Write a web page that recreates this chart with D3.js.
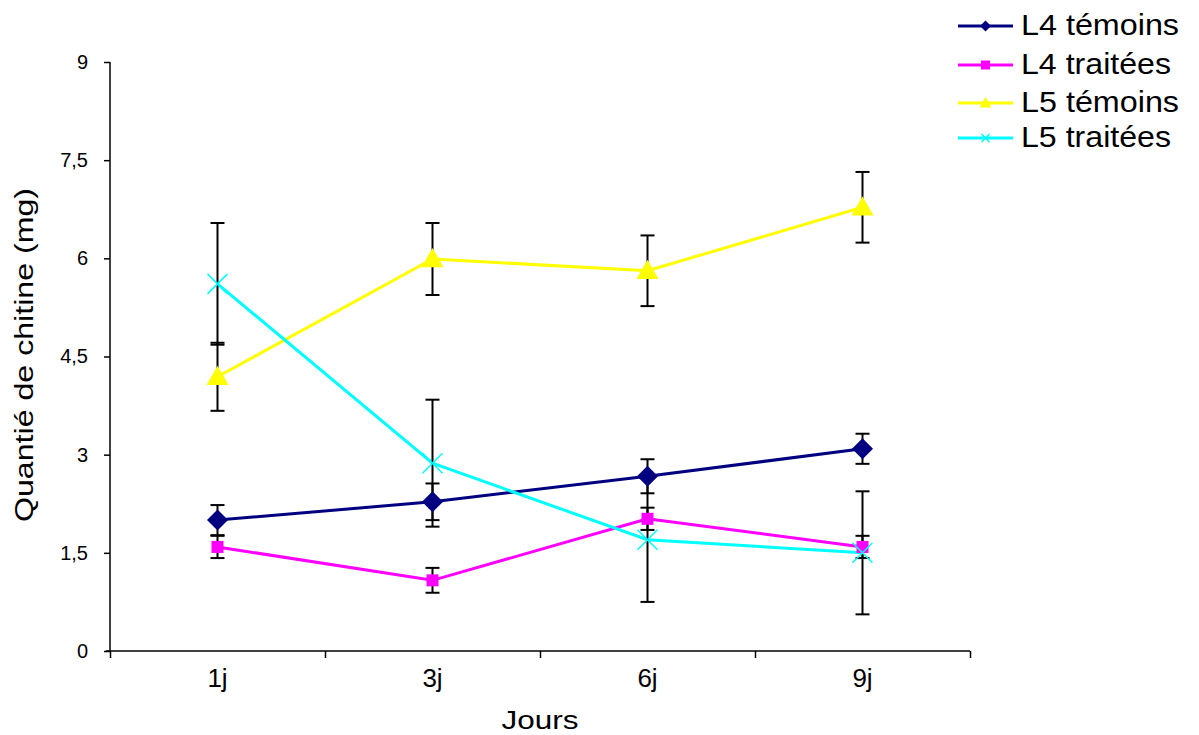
<!DOCTYPE html>
<html>
<head>
<meta charset="utf-8">
<script src="https://cdn.jsdelivr.net/npm/d3@7"></script>
<style>
  html, body { margin: 0; padding: 0; background: #fff; }
  svg { display: block; font-family: "Liberation Sans", Arial, sans-serif; }
</style>
</head>
<body>
<svg id="chart" width="1199" height="735"></svg>
<script>
const categories = ["1j", "3j", "6j", "9j"];
const yTicks = [0, 1.5, 3, 4.5, 6, 7.5, 9];
const seriesNames = ["L4 témoins", "L4 traitées", "L5 témoins", "L5 traitées"];
const l4Temoins = [2.0, 2.28, 2.67, 3.09];
const l4TemoinsErr = [0.23, 0.28, 0.26, 0.23];
const l4Traitees = [1.59, 1.08, 2.02, 1.59];
const l4TraiteesErr = [0.17, 0.19, 0.17, 0.17];
const l5Temoins = [4.19, 5.99, 5.81, 6.78];
const l5TemoinsErr = [0.52, 0.55, 0.54, 0.54];
const l5Traitees = [5.61, 2.87, 1.70, 1.50];
const l5TraiteesErr = [0.93, 0.97, 0.95, 0.94];
const colors = ["#000080", "#FF00FF", "#FFFF00", "#00FFFF"];
const markers = ["diamond", "square", "triangle", "cross"];

const series = seriesNames.map((name, i) => ({
  name,
  values: [l4Temoins, l4Traitees, l5Temoins, l5Traitees][i],
  errs: [l4TemoinsErr, l4TraiteesErr, l5TemoinsErr, l5TraiteesErr][i],
  color: colors[i],
  marker: markers[i]
}));

const svg = d3.select("#chart");
const plotLeft = 110, plotRight = 970, plotTop = 62, plotBottom = 651;

const x = d3.scaleBand().domain(categories).range([plotLeft, plotRight]);
const xEdge = d3.scaleLinear().domain([0, categories.length]).range([plotLeft, plotRight]);
const y = d3.scaleLinear().domain([0, 9]).range([plotBottom, plotTop]);

// Y axis
const yAxis = svg.append("g").attr("transform", `translate(${plotLeft},0)`)
  .call(d3.axisLeft(y).tickValues(yTicks).tickSize(6).tickPadding(16)
    .tickFormat(d => String(d).replace(".", ",")));
yAxis.selectAll("text").attr("font-size", 20).attr("fill", "#000")
  .attr("font-family", "Liberation Sans, Arial, sans-serif");
yAxis.selectAll("line, path").attr("stroke", "#000").attr("stroke-width", 1.5);
yAxis.select("path").attr("d", `M0,${plotTop}V${plotBottom}`);

// X axis: ticks at band edges
const xAxisTicks = svg.append("g").attr("transform", `translate(0,${plotBottom})`)
  .call(d3.axisBottom(xEdge).tickValues(d3.range(categories.length + 1)).tickSize(7).tickFormat(""));
xAxisTicks.selectAll("line, path").attr("stroke", "#000").attr("stroke-width", 1.5);
xAxisTicks.select("path").attr("d", `M${plotLeft - 4},0H${plotRight}`);

const xAxisLabels = svg.append("g").attr("transform", `translate(0,${plotBottom})`)
  .call(d3.axisBottom(x).tickSize(0).tickPadding(0));
xAxisLabels.select("path").remove();
xAxisLabels.selectAll("text").attr("font-size", 26).attr("fill", "#000")
  .attr("dy", null).attr("y", 36)
  .attr("font-family", "Liberation Sans, Arial, sans-serif");

// Axis titles
svg.append("text").attr("x", 540).attr("y", 729).attr("text-anchor", "middle")
  .attr("font-size", 26).attr("textLength", 77).attr("lengthAdjust", "spacingAndGlyphs")
  .text("Jours");
svg.append("text").attr("transform", "translate(33,355) rotate(-90)")
  .attr("text-anchor", "middle").attr("font-size", 26)
  .attr("textLength", 334).attr("lengthAdjust", "spacingAndGlyphs")
  .text("Quantié de chitine (mg)");

function drawMarker(g, type, cx, cy, color, s) {
  if (type === "diamond") {
    g.append("path").attr("d", `M${cx},${cy - s}L${cx + s},${cy}L${cx},${cy + s}L${cx - s},${cy}Z`)
      .attr("fill", color);
  } else if (type === "square") {
    g.append("rect").attr("x", cx - s / 2).attr("y", cy - s / 2)
      .attr("width", s).attr("height", s).attr("fill", color);
  } else if (type === "triangle") {
    g.append("path").attr("d", `M${cx},${cy - s}L${cx + s},${cy + s * 0.75}L${cx - s},${cy + s * 0.75}Z`)
      .attr("fill", color);
  } else {
    g.append("path").attr("d", `M${cx - s},${cy - s}L${cx + s},${cy + s}M${cx - s},${cy + s}L${cx + s},${cy - s}`)
      .attr("stroke", color).attr("stroke-width", 1.5).attr("fill", "none");
  }
}

const line = d3.line().x((d, i) => x(categories[i]) + x.bandwidth() / 2).y(d => y(d));

// Lines
series.forEach(s => {
  svg.append("path").datum(s.values).attr("d", line)
    .attr("fill", "none").attr("stroke", s.color).attr("stroke-width", 3);
});

// Error bars
const eb = svg.append("g").attr("stroke", "#000").attr("stroke-width", 2);
series.forEach(s => {
  s.values.forEach((v, i) => {
    const cx = x(categories[i]) + x.bandwidth() / 2;
    const y1 = y(v + s.errs[i]), y2 = y(v - s.errs[i]);
    eb.append("line").attr("x1", cx).attr("x2", cx).attr("y1", y1).attr("y2", y2);
    eb.append("line").attr("x1", cx - 7).attr("x2", cx + 7).attr("y1", y1).attr("y2", y1);
    eb.append("line").attr("x1", cx - 7).attr("x2", cx + 7).attr("y1", y2).attr("y2", y2);
  });
});

// Markers
const mg = svg.append("g");
const markerSize = { diamond: 10.5, square: 12, triangle: 11, cross: 10 };
series.forEach(s => {
  s.values.forEach((v, i) => {
    const cx = x(categories[i]) + x.bandwidth() / 2;
    drawMarker(mg, s.marker, cx, y(v), s.color, markerSize[s.marker]);
  });
});

// Legend
const legendY = [26, 65, 103, 138];
const lg = svg.append("g");
series.forEach((s, i) => {
  const ly = legendY[i];
  lg.append("line").attr("x1", 958).attr("x2", 1013).attr("y1", ly).attr("y2", ly)
    .attr("stroke", s.color).attr("stroke-width", 3);
  const ls = { diamond: 5.5, square: 9, triangle: 6, cross: 4 }[s.marker];
  drawMarker(lg, s.marker, 985.5, ly, s.color, ls);
  lg.append("text").attr("x", 1021).attr("y", ly + 9).attr("font-size", 30)
    .attr("textLength", i % 2 === 0 ? 158 : 150).attr("lengthAdjust", "spacingAndGlyphs")
    .attr("fill", "#000").text(s.name);
});
</script>
</body>
</html>
